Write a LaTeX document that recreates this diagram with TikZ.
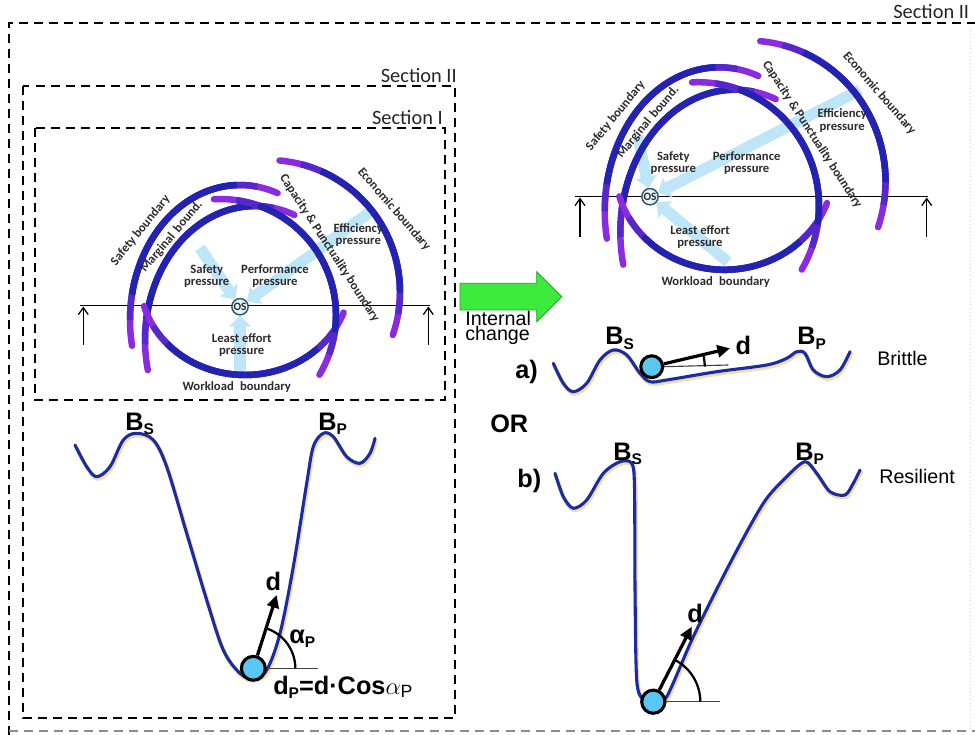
\documentclass[tikz,border=0pt]{standalone}
\usepackage{fontspec}
\setmainfont{Liberation Sans}
\newfontfamily\calfont{Carlito}
\usetikzlibrary{arrows.meta}
\definecolor{bblue}{HTML}{2323B2}
\definecolor{bpurp}{HTML}{8A2BE0}
\colorlet{bmid}{bblue!50!bpurp}
\definecolor{pblue}{HTML}{BEE5F8}
\definecolor{vblue}{HTML}{1B2C9E}
\definecolor{vshadow}{HTML}{E6BE5A}
\definecolor{ballc}{HTML}{5AC6F2}
\definecolor{gfill}{HTML}{3DEB3D}
\definecolor{gline}{HTML}{2B9B2B}
\definecolor{txtc}{HTML}{2B2B2B}
\definecolor{oscol}{HTML}{2F5566}
\definecolor{osfill}{HTML}{E2F1F6}
\newcommand\sbs[1]{\raisebox{-0.35ex}{\fontsize{11}{11}\selectfont #1}}
\newcommand\bnd[6]{%
  \pgfmathsetmacro\bndd{((#6)-(#5))*0.09}%
  \pgfmathsetmacro\bnda{#5+\bndd}%
  \pgfmathsetmacro\bndb{#6-\bndd}%
  \pgfmathsetmacro\bndc{#5+2*\bndd}%
  \pgfmathsetmacro\bnde{#6-2*\bndd}%
  \draw[bndl,bpurp,line cap=round] plot[domain=#5:#6,samples=60,variable=\ang] ({#1+#3*cos(\ang)},{#2+#4*sin(\ang)});%
  \draw[bndl,bmid] plot[domain=\bnda:\bndb,samples=60,variable=\ang] ({#1+#3*cos(\ang)},{#2+#4*sin(\ang)});%
  \draw[bndl,bblue] plot[domain=\bndc:\bnde,samples=60,variable=\ang] ({#1+#3*cos(\ang)},{#2+#4*sin(\ang)});%
}
\newcommand\allbounds{%
  \bnd{240}{320}{110}{135}{169}{290}%
  \bnd{255}{340}{110}{134}{167}{291}%
  \bnd{245}{280}{105}{95}{20}{164}%
  \bnd{220}{315}{116}{116}{267}{391}%
  \bnd{268}{292}{132}{132}{275}{379}%
  \node[blab,rotate=51] at (140.5,230.5) {Safety boundary};
  \node[blab,rotate=50] at (171.5,236.5) {Marginal\hspace{0.4em}bound.};
  \node[blab,rotate=-57] at (329.5,248.2) {Capacity \& Punctuality boundary};
  \node[blab,rotate=-49] at (394,209.3) {Economic boundary};
  \node[plab] at (358.3,235) {Efficiency\\pressure};
  \node[blab] at (236.7,386.7) {Workload\hspace{0.5em}boundary};
}
\begin{document}
\begin{tikzpicture}[x=0.025cm,y=-0.025cm,
  bndl/.style={line width=4.6pt, line cap=butt, line join=round},
  blab/.style={font=\calfont\bfseries\fontsize{9}{9}\selectfont, text=txtc, inner sep=0pt},
  plab/.style={font=\calfont\bfseries\fontsize{9}{8.6}\selectfont, text=txtc, align=center, inner sep=0pt},
  pres/.style={draw=pblue, line width=8pt, -{Triangle[length=8pt,width=15pt]}},
  dbox/.style={line width=1.4pt, dash pattern=on 6.4pt off 4.3pt},
  seclab/.style={font=\calfont\fontsize{14.5}{14.5}\selectfont, text=black!85, inner sep=0pt},
  upar/.style={line width=0.9pt, -{Straight Barb[length=5pt,width=7pt]}},
  valley/.style={vblue, line width=2.2pt, line cap=round, line join=round},
  vshad/.style={vshadow, line width=3pt, opacity=0.5, line cap=round},
  ball/.style={circle, draw=black, line width=2.2pt, fill=ballc, inner sep=0pt},
  darrow/.style={line width=2.3pt, -{Triangle[length=9pt,width=8.5pt]}},
  bold/.style={font=\bfseries\fontsize{18}{18}\selectfont, inner sep=0pt},
  angarc/.style={line width=1.6pt},
  hline/.style={line width=0.8pt, black!75},
  oscirc/.style={circle, draw=oscol, fill=osfill, line width=0.9pt, minimum size=11.5pt, inner sep=0pt, font=\calfont\bfseries\fontsize{8}{8}\selectfont, text=txtc},
  plain/.style={font=\fontsize{14}{14}\selectfont, inner sep=0pt}
]
\useasboundingbox (0,0) rectangle (975,735);
\fill[white] (0,0) rectangle (975,735);

% ---------- frames ----------
\draw[dbox] (9,735) -- (9,23) -- (975,23);
\draw[dbox, black!45, line width=1.2pt] (9,731) -- (975,731);
\draw[black!18, line width=0.6pt, dotted] (970,30) -- (970,731);
\draw[dbox] (23,86) rectangle (455,718);
\draw[dbox] (35,128) rectangle (445,400);
\node[seclab, anchor=base west] (s3) at (893,19) {Section II};
\node[seclab, anchor=base east] (s2) at (457,83) {Section II};
\node[seclab, anchor=base east] (s1) at (443,125) {Section I};

% ---------- left circle diagram ----------
\draw[line width=1pt] (80,305.7) -- (430,305.7);
\draw[upar] (83.3,345) -- (83.3,306.5);
\draw[upar] (428.3,345) -- (428.3,306.5);
\node[oscirc] (osL) at (240,306.7) {OS};
\coordinate (psL) at (200,248);
\coordinate (ppL) at (373,210);
\coordinate (plL) at (240,377);
\draw[pres] (psL) -- (osL);
\draw[pres] (ppL) -- (osL);
\draw[pres] (plL) -- (osL);
\allbounds
\node[plab] at (206.7,276) {Safety\\pressure};
\node[plab] at (275,276) {Performance\\pressure};
\node[plab] at (241.7,345) {Least effort\\pressure};
\node[oscirc] at (240,306.7) {OS};

% ---------- right circle diagram ----------
\draw[line width=1pt] (575,196.7) -- (928,196.7);
\draw[upar] (580,237) -- (580,197.5);
\draw[upar] (926.7,237) -- (926.7,197.5);
\node[oscirc] (osR) at (650,196.7) {OS};
\coordinate (psR) at (638,136);
\coordinate (ppR) at (860,90);
\coordinate (plR) at (728,262);
\draw[pres] (psR) -- (osR);
\draw[pres] (ppR) -- (osR);
\draw[pres] (plR) -- (osR);
\begin{scope}[shift={(469.54,-129.94)}, xscale=1.04, yscale=1.066]
\allbounds
\end{scope}
\node[plab] at (673.3,163.3) {Safety\\pressure};
\node[plab] at (746.7,163.3) {Performance\\pressure};
\node[plab] at (700,236.7) {Least effort\\pressure};
\node[oscirc] at (650,196.7) {OS};

% ---------- green arrow ----------
\filldraw[fill=gfill, draw=gline, line width=0.6pt] (460,283.3) -- (536.7,283.3) -- (536.7,271.7) -- (561.7,296.7) -- (536.7,321.7) -- (536.7,310) -- (460,310) -- cycle;
\node[plain, anchor=base west] (ic1) at (465,325.7) {Internal};
\node[plain, anchor=base west] (ic2) at (465,340) {change};

% ---------- left valley ----------
\draw[vshad] plot[smooth,tension=0.55] coordinates {(76,447) (87.7,468.7) (97.7,478.7) (111,468.7) (124.3,442) (137.7,435.3) (154.3,442) (167.7,468.7) (187.7,535.3) (207.7,602) (224.3,652) (241,675.3) (254.3,680.3) (267.7,672) (281,635.3) (294.3,568.7) (307.7,485.3) (314.3,448.7) (324.3,435.3) (334.3,438.7) (347.7,458.7) (361,465.3) (371,455.3) (376,440.3)};
\draw[valley] plot[smooth,tension=0.55] coordinates {(75,445) (86.7,466.7) (96.7,476.7) (110,466.7) (123.3,440) (136.7,433.3) (153.3,440) (166.7,466.7) (186.7,533.3) (206.7,600) (223.3,650) (240,673.3) (253.3,678.3) (266.7,670) (280,633.3) (293.3,566.7) (306.7,483.3) (313.3,446.7) (323.3,433.3) (333.3,436.7) (346.7,456.7) (360,463.3) (370,453.3) (375,438.3)};
\node[bold, anchor=base west] (bsL) at (125,430) {B\sbs{S}};
\node[bold, anchor=base west] (bpL) at (318,430) {B\sbs{P}};
\node[ball, minimum size=17pt] (ballL) at (253.3,668.3) {};
\coordinate (dtL) at (276.7,595);
\coordinate (hlL) at (318.3,668.3);
\draw[hline] (ballL.east) -- (hlL);
\draw[angarc] plot[domain=-72:0,samples=30,variable=\ang] ({253.3+42*cos(\ang)},{668.3+42*sin(\ang)});
\draw[darrow] (ballL) -- (dtL);
\node[bold] (dL) at (273.3,581.7) {d};
\node[bold, anchor=base west] (aL) at (289,643) {α\sbs{P}};
\node[bold, anchor=base west] (fL) at (273,694) {d\sbs{P}=d·Cos$\alpha_{\mathrm{P}}$};

% ---------- a) brittle ----------
\node[bold, anchor=base west] (la) at (515,378) {a)};
\node[bold, anchor=base west] (lor) at (490,432) {OR};
\draw[vshad] plot[smooth,tension=0.55] coordinates {(554.3,365.3) (564.3,385.3) (574.3,393.7) (587.7,385.3) (601,362) (614.3,352) (627.7,357) (641,375.3) (651,383.7) (667.7,382) (717.7,373.7) (767.7,367) (787.7,360.3) (797.7,353.7) (806,355.3) (814.3,372) (827.7,378.7) (841,372) (851,353.7)};
\draw[valley] plot[smooth,tension=0.55] coordinates {(553.3,363.3) (563.3,383.3) (573.3,391.7) (586.7,383.3) (600,360) (613.3,350) (626.7,355) (640,373.3) (650,381.7) (666.7,380) (716.7,371.7) (766.7,365) (786.7,358.3) (796.7,351.7) (805,353.3) (813.3,370) (826.7,376.7) (840,370) (850,351.7)};
\node[bold, anchor=base west] (bsA) at (605,345) {B\sbs{S}};
\node[bold, anchor=base west] (bpA) at (797,345) {B\sbs{P}};
\node[ball, minimum size=15.5pt] (ballA) at (651.7,366.7) {};
\coordinate (dtA) at (730,348.3);
\coordinate (hlA) at (728.3,365);
\draw[hline] (ballA.east) -- (hlA);
\draw[angarc] plot[domain=-13:0,samples=10,variable=\ang] ({651.7+53*cos(\ang)},{366.7+53*sin(\ang)});
\draw[darrow] (ballA) -- (dtA);
\node[bold] (dA) at (743.3,345) {d};
\node[plain, anchor=base west] (brit) at (877,365) {Brittle};

% ---------- b) resilient ----------
\node[bold, anchor=base west] (lb) at (517,487) {b)};
\draw[vshad] plot[smooth,tension=0.5] coordinates {(556,475.3) (564.3,498.7) (574.3,510.3) (587.7,502) (604.3,475.3) (621,463.7) (632.7,465.3) (635.5,488.7) (636,588.7) (637.7,682) (644.3,702) (654.3,707) (667.7,698.7) (694.3,638.7) (731,565.3) (764.3,505.3) (787.7,478.7) (806,463.7) (817.7,475.3) (831,493.7) (846,497) (854.3,485.3) (861,472)};
\draw[valley] plot[smooth,tension=0.5] coordinates {(555,473.3) (563.3,496.7) (573.3,508.3) (586.7,500) (603.3,473.3) (620,461.7) (631.7,463.3) (634.5,486.7) (635,586.7) (636.7,680) (643.3,700) (653.3,705) (666.7,696.7) (693.3,636.7) (730,563.3) (763.3,503.3) (786.7,476.7) (805,461.7) (816.7,473.3) (830,491.7) (845,495) (853.3,483.3) (860,470)};
\node[bold, anchor=base west] (bsB) at (613,460) {B\sbs{S}};
\node[bold, anchor=base west] (bpB) at (795,460) {B\sbs{P}};
\node[ball, minimum size=16.5pt] (ballB) at (653.3,701.7) {};
\coordinate (dtB) at (691.7,626.7);
\coordinate (hlB) at (720,701.7);
\draw[hline] (ballB.east) -- (hlB);
\draw[angarc] plot[domain=-63:0,samples=30,variable=\ang] ({653.3+47*cos(\ang)},{701.7+47*sin(\ang)});
\draw[darrow] (ballB) -- (dtB);
\node[bold] (dB) at (695,613.3) {d};
\node[plain, anchor=base west] (resil) at (879,483) {Resilient};
\end{tikzpicture}
\end{document}
